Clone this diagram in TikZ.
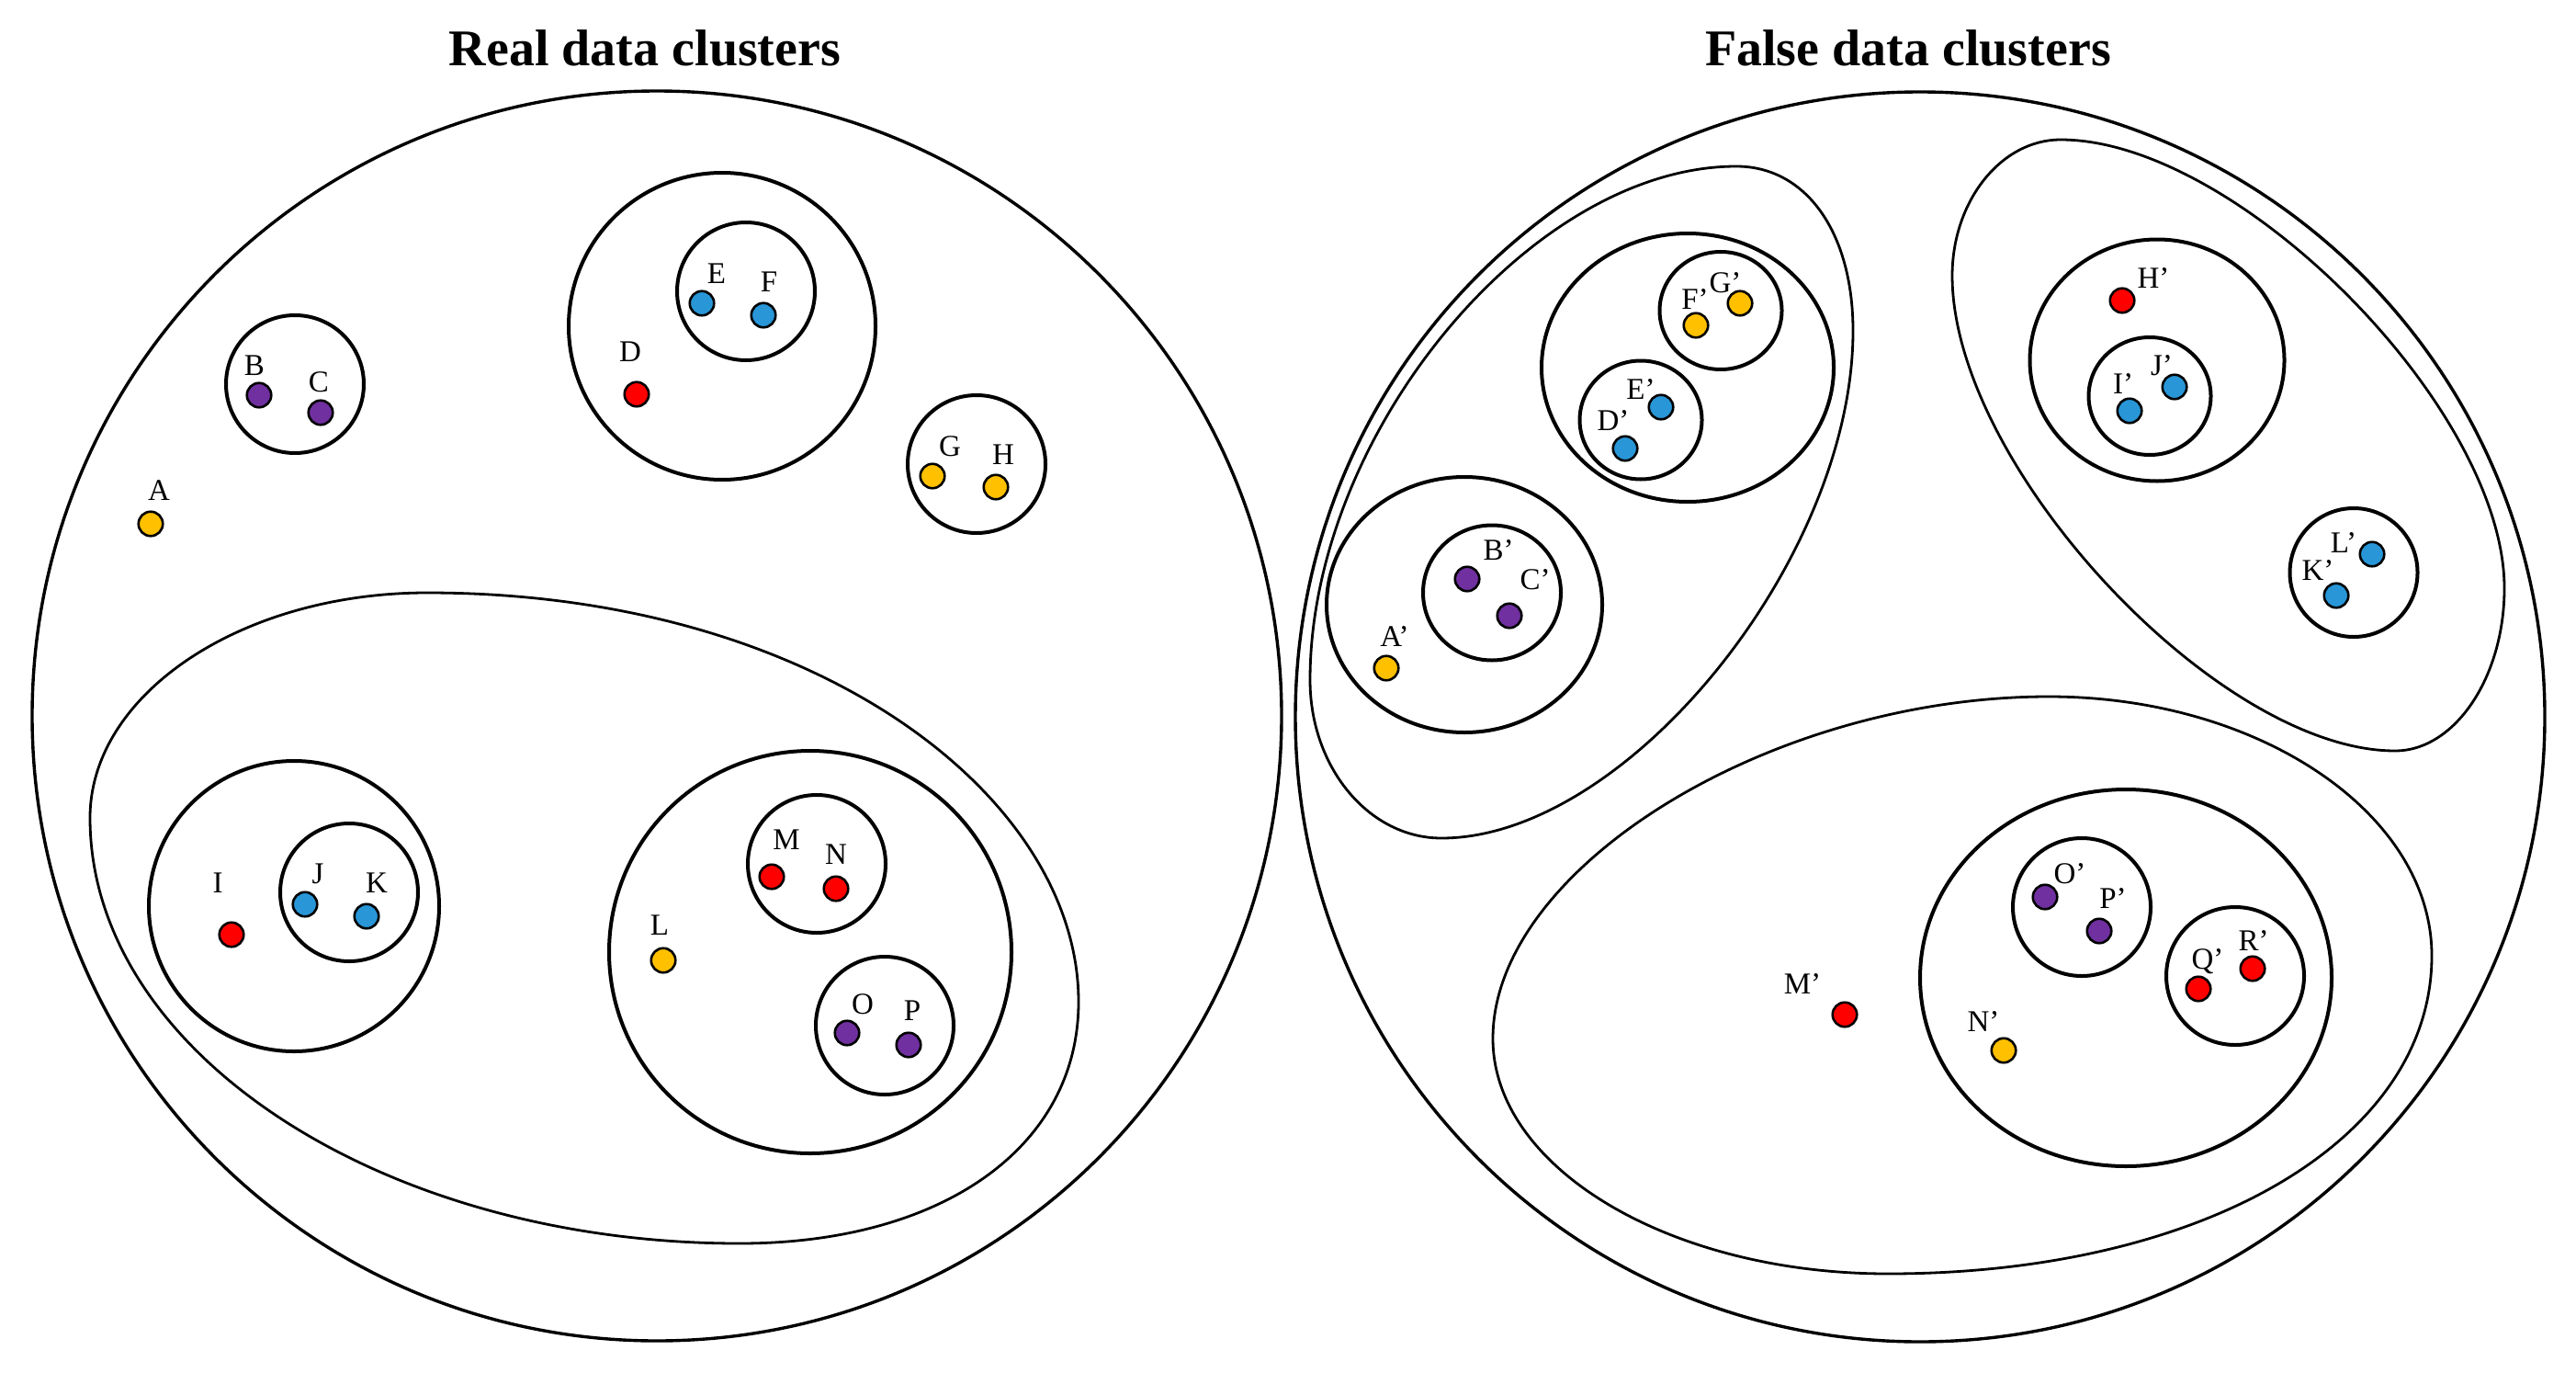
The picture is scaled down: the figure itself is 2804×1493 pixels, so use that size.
\documentclass[tikz,border=0pt]{standalone}
\usepackage{fontspec}
\setmainfont{Liberation Serif}
\definecolor{dblue}{RGB}{40,150,215}
\definecolor{dpurple}{RGB}{112,48,160}
\definecolor{dyellow}{RGB}{255,192,0}
\definecolor{dred}{RGB}{255,0,0}
\begin{document}
\begin{tikzpicture}[x=1pt,y=-1pt,
  outer/.style={line width=3.4pt},
  clus/.style={line width=4pt},
  oval/.style={line width=2.8pt},
  pt/.style={circle,draw=black,line width=2.6pt,fill=#1,minimum size=26.5pt,inner sep=0pt},
  lab/.style={anchor=base,yshift=-11.5pt,font=\fontsize{33}{40}\selectfont,inner sep=0pt},
  ttl/.style={anchor=base,font=\fontsize{56}{66}\selectfont\bfseries,inner sep=0pt}]
\fill[white] (0,0) rectangle (2804,1493);
\useasboundingbox (0,0) rectangle (2804,1493);

% ---------- titles ----------
\node[ttl] (t1) at (702,72) {Real data clusters};
\node[ttl] (t2) at (2077,72) {False data clusters};

% ---------- real data clusters ----------
\draw[outer] (715,779) circle (680);
\draw[oval] (465,645) .. controls (890,645) and (1174,868) .. (1174,1090)
  .. controls (1174,1248) and (1026,1353) .. (805,1353)
  .. controls (416,1353) and (98,1145) .. (98,890)
  .. controls (98,755) and (263,645) .. cycle;
\draw[clus] (786,355) circle (167);
\draw[clus] (812,317) circle (75);
\draw[clus] (321,418) circle (75);
\draw[clus] (1063,505) circle (75);
\draw[clus] (320,986) circle (158);
\draw[clus] (380,971) circle (75);
\draw[clus] (882,1036) circle (219);
\draw[clus] (889,940) circle (75);
\draw[clus] (963,1116) circle (75);

\node[pt=dyellow] (pA) at (164,570) {};
\node[pt=dpurple] (pB) at (282,430) {};
\node[pt=dpurple] (pC) at (349,449) {};
\node[pt=dred]    (pD) at (693,429) {};
\node[pt=dblue]   (pE) at (764,330) {};
\node[pt=dblue]   (pF) at (831,343) {};
\node[pt=dyellow] (pG) at (1015,518) {};
\node[pt=dyellow] (pH) at (1084,530) {};
\node[pt=dred]    (pI) at (252,1017) {};
\node[pt=dblue]   (pJ) at (332,984) {};
\node[pt=dblue]   (pK) at (399,997) {};
\node[pt=dyellow] (pL) at (722,1045) {};
\node[pt=dred]    (pM) at (840,954) {};
\node[pt=dred]    (pN) at (910,967) {};
\node[pt=dpurple] (pO) at (922,1124) {};
\node[pt=dpurple] (pP) at (989,1137) {};

\node[lab] (lA) at (173,533) {A};
\node[lab] (lB) at (277,397) {B};
\node[lab] (lC) at (347,415) {C};
\node[lab] (lD) at (686,382) {D};
\node[lab] (lE) at (780,297) {E};
\node[lab] (lF) at (837,306) {F};
\node[lab] (lG) at (1034,485) {G};
\node[lab] (lH) at (1092,494) {H};
\node[lab] (lI) at (237,960) {I};
\node[lab] (lJ) at (346,950) {J};
\node[lab] (lK) at (410,960) {K};
\node[lab] (lL) at (718,1006) {L};
\node[lab] (lM) at (856,913) {M};
\node[lab] (lN) at (910,929) {N};
\node[lab] (lO) at (939,1092) {O};
\node[lab] (lP) at (993,1099) {P};

% ---------- false data clusters ----------
\draw[outer] (2090,780) circle (680);
\draw[oval] (1890,181) .. controls (1966,181) and (2017,253) .. (2017,360)
  .. controls (2017,608) and (1771,912) .. (1569,912)
  .. controls (1490,912) and (1426,835) .. (1426,740)
  .. controls (1426,472) and (1667,181) .. cycle;
\draw[oval] (2243,152) .. controls (2436,152) and (2726,445) .. (2726,640)
  .. controls (2726,737) and (2672,817) .. (2607,817)
  .. controls (2414,817) and (2125,507) .. (2125,300)
  .. controls (2125,219) and (2178,152) .. cycle;
\draw[oval] (2230,758) .. controls (2459,758) and (2647,885) .. (2647,1040)
  .. controls (2647,1241) and (2398,1386) .. (2055,1386)
  .. controls (1818,1386) and (1625,1271) .. (1625,1130)
  .. controls (1625,944) and (1928,758) .. cycle;

\draw[clus] (1837,400) ellipse (159 and 146);
\draw[clus] (1873,338) ellipse (66.5 and 64);
\draw[clus] (1786,457) ellipse (66.5 and 64.5);
\draw[clus] (1594,658) ellipse (150 and 139);
\draw[clus] (1624,645) ellipse (75 and 73.5);
\draw[clus] (2348,392) ellipse (138.5 and 131.5);
\draw[clus] (2340,431) ellipse (66.5 and 64);
\draw[clus] (2562,623) ellipse (69.5 and 70);
\draw[clus] (2314,1064) ellipse (224 and 205);
\draw[clus] (2266,987) circle (75);
\draw[clus] (2433,1062) circle (75);

\node[pt=dyellow] (pA2) at (1509,727) {};
\node[pt=dpurple] (pB2) at (1597,630) {};
\node[pt=dpurple] (pC2) at (1643,670) {};
\node[pt=dblue]   (pD2) at (1769,488) {};
\node[pt=dblue]   (pE2) at (1808,443) {};
\node[pt=dyellow] (pF2) at (1846,354) {};
\node[pt=dyellow] (pG2) at (1894,330) {};
\node[pt=dred]    (pH2) at (2310,327) {};
\node[pt=dblue]   (pI2) at (2318,447) {};
\node[pt=dblue]   (pJ2) at (2367,421) {};
\node[pt=dblue]   (pK2) at (2543,648) {};
\node[pt=dblue]   (pL2) at (2582,603) {};
\node[pt=dred]    (pM2) at (2008,1104) {};
\node[pt=dyellow] (pN2) at (2181,1143) {};
\node[pt=dpurple] (pO2) at (2226,976) {};
\node[pt=dpurple] (pP2) at (2285,1013) {};
\node[pt=dred]    (pQ2) at (2393,1076) {};
\node[pt=dred]    (pR2) at (2452,1054) {};

\node[lab] (lA2) at (1518,692) {A’};
\node[lab] (lB2) at (1631,598) {B’};
\node[lab] (lC2) at (1671,630) {C’};
\node[lab] (lD2) at (1756,457) {D’};
\node[lab] (lE2) at (1786,423) {E’};
\node[lab] (lF2) at (1845,325) {F’};
\node[lab] (lG2) at (1878,307) {G’};
\node[lab] (lH2) at (2344,302) {H’};
\node[lab] (lI2) at (2311,417) {I’};
\node[lab] (lJ2) at (2353,397) {J’};
\node[lab] (lK2) at (2523,620) {K’};
\node[lab] (lL2) at (2551,590) {L’};
\node[lab] (lM2) at (1962,1070) {M’};
\node[lab] (lN2) at (2159,1111) {N’};
\node[lab] (lO2) at (2253,950) {O’};
\node[lab] (lP2) at (2300,977) {P’};
\node[lab] (lQ2) at (2403,1043) {Q’};
\node[lab] (lR2) at (2453,1023) {R’};
\end{tikzpicture}
\end{document}
